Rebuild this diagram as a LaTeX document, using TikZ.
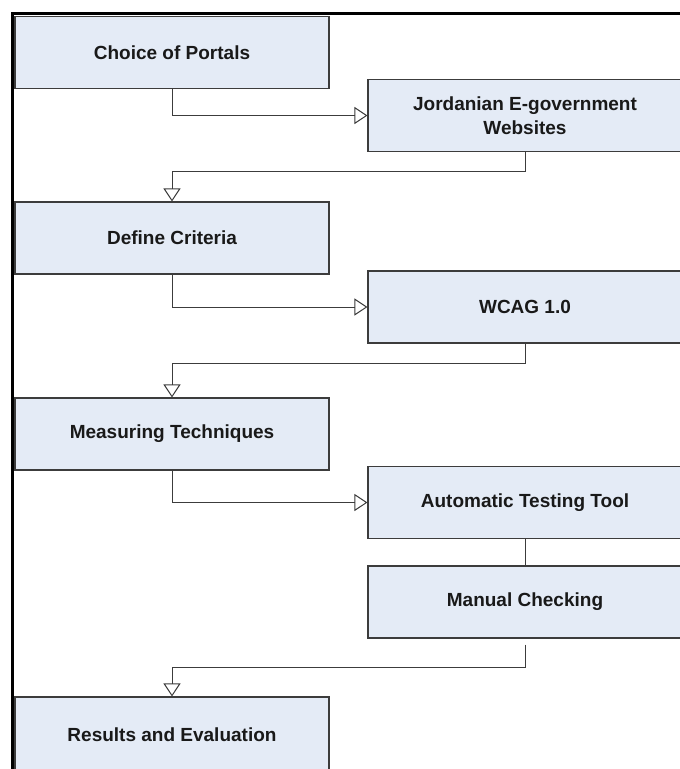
\documentclass[tikz,border=0pt]{standalone}
\usepackage{fontspec}
\setmainfont{Liberation Sans}
\usetikzlibrary{arrows.meta}
\definecolor{boxfill}{RGB}{228,235,246}
\definecolor{boxline}{RGB}{60,60,60}
\definecolor{wire}{RGB}{60,60,60}
\begin{document}
\begin{tikzpicture}[x=1pt,y=-1pt,
    stage/.style={draw=boxline,fill=boxfill,line width=1.1pt,minimum width=314pt,minimum height=72pt,inner sep=0pt,align=center,text=black!90,font=\bfseries\fontsize{19}{24}\selectfont},
    wireline/.style={draw=wire,line width=1pt},
    flow/.style={wireline,-{Triangle[open,length=13pt,width=17pt]}}]
    \useasboundingbox(0,0)rectangle(680,769);
    \clip(0,0)rectangle(680,769);
    \draw[line width=3pt](12,800)--(12,13)--(700,13);
    \node[stage](portals)at(172,52.5){Choice of Portals};
    \node[stage](sites)at(525,115.5){Jordanian E-government\\Websites};
    \node[stage](criteria)at(172,238){Define Criteria};
    \node[stage](wcag)at(525,307){WCAG 1.0};
    \node[stage](measure)at(172,434){Measuring Techniques};
    \node[stage](autotool)at(525,502.5){Automatic Testing Tool};
    \node[stage](manual)at(525,602){Manual Checking};
    \node[stage,minimum height=76pt](results)at(172,735){Results and Evaluation};
    \draw[flow](portals.south)|-(sites.west);
    \draw[flow](sites.south)--++(0,19)-|(criteria.north);
    \draw[flow](criteria.south)|-(wcag.west);
    \draw[flow](wcag.south)--++(0,20)-|(measure.north);
    \draw[flow](measure.south)|-(autotool.west);
    \draw[wireline](autotool.south)--(manual.north);
    \draw[flow,shorten <=6pt](manual.south)--++(0,29)-|(results.north);
\end{tikzpicture}
\end{document}
